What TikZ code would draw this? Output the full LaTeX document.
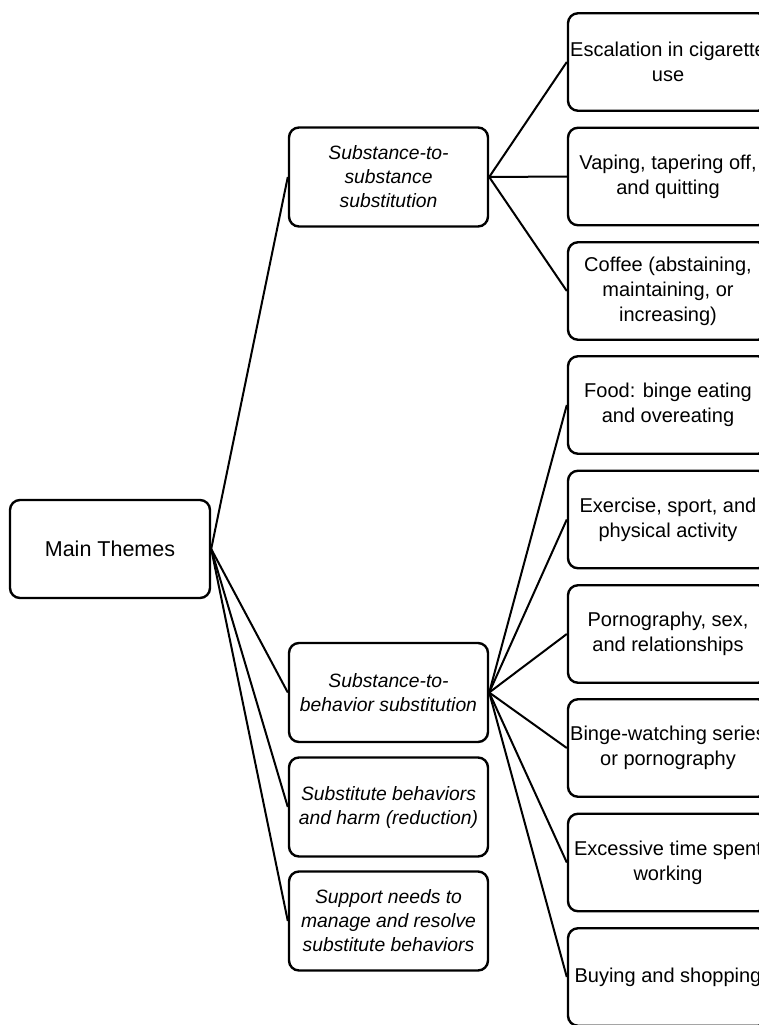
\documentclass[tikz,border=0pt]{standalone}
\usepackage{fontspec}
\setmainfont{Liberation Sans}
\usepackage{tikz}
\tikzstyle{mainbox}=[rectangle,rounded corners=10pt,draw=black,line width=2.4pt,
  minimum width=200pt,minimum height=98pt,inner sep=0pt,align=center,
  font=\fontsize{21.5}{26}\selectfont]
\tikzstyle{themebox}=[rectangle,rounded corners=10pt,draw=black,line width=2.4pt,
  minimum width=199pt,minimum height=99pt,inner sep=0pt,align=center,
  font=\fontsize{19.3}{24}\selectfont\itshape]
\tikzstyle{subbox}=[rectangle,rounded corners=10pt,draw=black,line width=2.4pt,
  minimum width=200pt,minimum height=97.5pt,inner sep=0pt,align=center,
  font=\fontsize{20}{25}\selectfont]
\tikzstyle{link}=[line width=2pt]

\begin{document}
\begin{tikzpicture}[x=1pt,y=-1pt]
    \useasboundingbox (0,0) rectangle (759,1025);
    \node [style=mainbox] (main) at (110,549) {Main Themes};
    \node [style=themebox] (1t) at (388.5,177) {Substance-to-\\substance\\substitution};
    \node [style=themebox] (2t) at (388.5,692.5) {Substance-to-\\behavior substitution};
    \node [style=themebox] (3t) at (388.5,807) {Substitute behaviors\\and harm (reduction)};
    \node [style=themebox] (4t) at (388.5,921) {Support needs to\\manage and resolve\\substitute behaviors};
    \node [style=subbox] (1s) at (668,62) {Escalation in cigarette\\use};
    \node [style=subbox] (2s) at (668,176.5) {Vaping, tapering off,\\and quitting};
    \node [style=subbox] (3s) at (668,291) {Coffee (abstaining,\\maintaining, or\\increasing)};
    \node [style=subbox] (4s) at (668,405) {Food: binge eating\\and overeating};
    \node [style=subbox] (5s) at (668,519.5) {Exercise, sport, and\\physical activity};
    \node [style=subbox] (6s) at (668,634) {Pornography, sex,\\and relationships};
    \node [style=subbox] (7s) at (668,748) {Binge-watching series\\or pornography};
    \node [style=subbox] (8s) at (668,862.5) {Excessive time spent\\working};
    \node [style=subbox] (9s) at (668,977) {Buying and shopping};
    \draw [style=link] (main.east) to (1t.west);
    \draw [style=link] (main.east) to (2t.west);
    \draw [style=link] (main.east) to (3t.west);
    \draw [style=link] (main.east) to (4t.west);
    \draw [style=link] (1t.east) to (1s.west);
    \draw [style=link] (1t.east) to (2s.west);
    \draw [style=link] (1t.east) to (3s.west);
    \draw [style=link] (2t.east) to (4s.west);
    \draw [style=link] (2t.east) to (5s.west);
    \draw [style=link] (2t.east) to (6s.west);
    \draw [style=link] (2t.east) to (7s.west);
    \draw [style=link] (2t.east) to (8s.west);
    \draw [style=link] (2t.east) to (9s.west);
  \end{tikzpicture}
\end{document}
